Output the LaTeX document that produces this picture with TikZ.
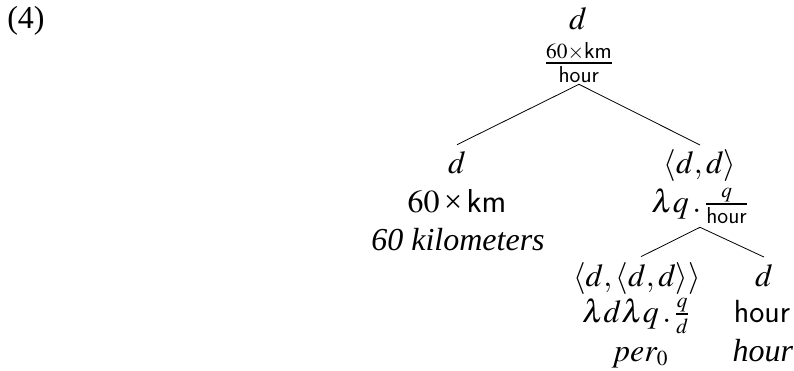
\documentclass[tikz,border=0pt]{standalone}
\usepackage{mathptmx}
\usepackage{fontspec}
\setmainfont{Liberation Serif}
\DeclareMathSizes{24}{24}{16}{12}
\begin{document}
\begin{tikzpicture}[x=0.75pt,y=-0.75pt]
\tikzset{lab/.style={inner sep=0pt, anchor=base, font=\fontsize{24}{28}\selectfont},
         edge/.style={line width=0.6pt}}
\useasboundingbox (0,0) rectangle (794,371);
\node[lab] (ex) at (26,28) {(4)};
\node[lab] (rt) at (578,29) {$d$};
\node[lab] (rtf) at (579,71) {$\frac{60\times\mathsf{km}}{\mathsf{hour}}$};
\node[lab] (ld) at (457,173) {$d$};
\node[lab] (lm) at (457,212) {$60\mathbin{\mbox{×}}\mathsf{km}$};
\node[lab] (lw) at (458,250) {\textit{60 kilometers}};
\node[lab] (rd) at (700,173) {$\langle d,d\rangle$};
\node[lab] (rm) at (700,212) {$\lambda q\,.\,\frac{q}{\mathsf{hour}}$};
\node[lab] (ad) at (637,286) {$\langle d,\langle d,d\rangle\rangle$};
\node[lab] (am) at (636,322) {$\lambda d\lambda q\,.\,\frac{q}{d}$};
\node[lab] (aw) at (640,361) {$per_0$};
\node[lab] (bd) at (764,286) {$d$};
\node[lab] (bm) at (762,322) {\sffamily hour};
\node[lab] (bw) at (763,361) {\textit{hour}};
\draw[edge] ([yshift=-1.5pt]rtf.south) -- ([yshift=4.5pt]ld.north);
\draw[edge] ([yshift=-1.5pt]rtf.south) -- ([yshift=3pt]rd.north);
\draw[edge] ([yshift=-3pt]rm.south) -- ([xshift=3pt,yshift=4pt]ad.north);
\draw[edge] ([yshift=-3pt]rm.south) -- ([yshift=5pt]bd.north);
\end{tikzpicture}
\end{document}
